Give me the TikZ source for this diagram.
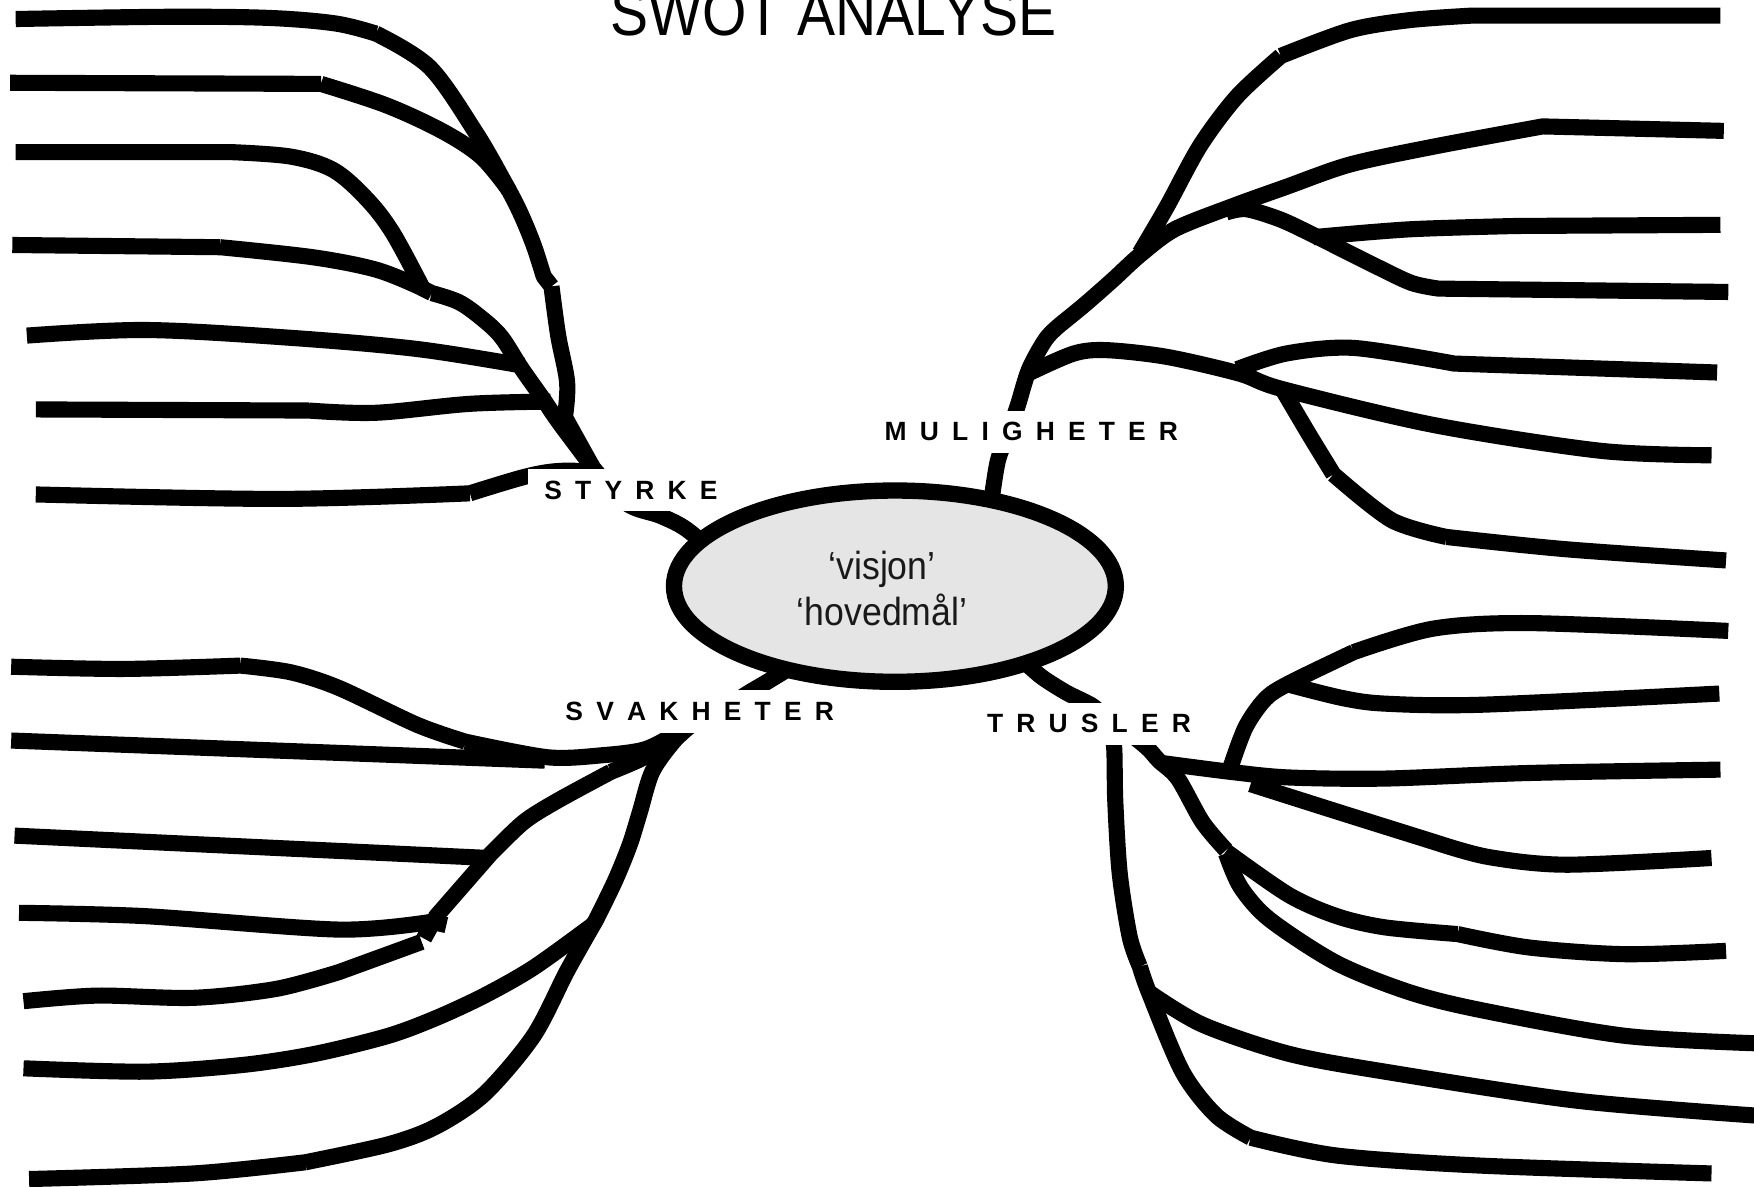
\documentclass[tikz,border=0pt]{standalone}
\usepackage{fontspec}
\setmainfont{Liberation Sans}
\newfontfamily\titlefont[FakeStretch=0.87]{Liberation Sans}
\newfontfamily\ellfont[FakeStretch=0.91]{Liberation Sans}
\newfontfamily\labfont{Liberation Sans}
\usetikzlibrary{shapes.geometric}
\definecolor{ellgray}{HTML}{E5E5E5}
\newcommand\labelfont{\labfont\bfseries\fontsize{11.8}{13}\selectfont\spaceskip=0.5em\relax}
\tikzset{
  branch/.style={line width=7.2pt, line cap=butt, line join=round},
  lab/.style={fill=white, inner xsep=7.5pt, inner ysep=0pt, minimum height=19pt, font=\labelfont},
}
\begin{document}
\begin{tikzpicture}[x=0.5pt,y=-0.5pt]
\useasboundingbox (0,0) rectangle (1568,1061);
\fill[white] (0,0) rectangle (1568,1061);
\clip (0,0) rectangle (1568,1061);

% ---------- STYRKE branches ----------
\draw[branch] plot[smooth,tension=0.55] coordinates {(14,17) (150,15) (240,16) (300,21) (336,30)} plot[smooth,tension=0.55] coordinates {(336,30) (384,60) (425,118) (451,163) (465,190) (477,219) (486,247)} -- (493,256) plot[smooth,tension=0.55] coordinates {(493,256) (499,300) (507,342) (505,373)} -- (530,418) plot[smooth,tension=0.55] coordinates {(530,418) (560,450) (590,461) (612,472) (634,490)};
\draw[branch] (9,74) -- (287,75) plot[smooth,tension=0.55] coordinates {(287,75) (345,94) (395,117) (430,140) (455,170)};
\draw[branch] (14,136) -- (207,136) plot[smooth,tension=0.55] coordinates {(207,136) (260,140) (298,152) (328,178) (351,208) (378,258)};
\draw[branch] (11,219) -- (197,221) plot[smooth,tension=0.55] coordinates {(197,221) (280,230) (336,241) (374,256)} -- (386,262) plot[smooth,tension=0.55] coordinates {(386,262) (410,270) (430,284) (448,301) (466,329) (485,356) (500,378) (530,418)};
\draw[branch] plot[smooth,tension=0.55] coordinates {(24,300) (130,295) (260,302) (373,312) (468,327)};
\draw[branch] (32,366) -- (276,367) plot[smooth,tension=0.55] coordinates {(276,367) (336,369) (420,361) (492,359)};
\draw[branch] plot[smooth,tension=0.55] coordinates {(32,442) (250,446) (420,441)} plot[smooth,tension=0.55] coordinates {(420,441) (470,426) (500,421) (525,423) (560,440)};

% ---------- MULIGHETER branches ----------
\draw[branch] plot[smooth,tension=0.5] coordinates {(886,450) (892,412) (902,385) (910,362) (920,330) (935,303) (948,290)} plot[smooth,tension=0.5] coordinates {(948,290) (970,272) (995,250) (1019,228) (1050,205) (1100,185) (1150,167) (1207,147) (1282,131) (1379,113)} -- (1541,117);
\draw[branch] plot[smooth,tension=0.5] coordinates {(1019,226) (1043,185) (1073,130) (1106,86) (1145,50)} plot[smooth,tension=0.5] coordinates {(1145,50) (1207,27) (1260,18) (1315,14)} -- (1538,14);
\draw[branch] plot[smooth,tension=0.5] coordinates {(1096,190) (1114,187) (1144,196) (1174,210) (1230,238) (1262,253) (1286,258)} -- (1545,261);
\draw[branch] plot[smooth,tension=0.5] coordinates {(1174,212) (1260,205) (1356,202)} -- (1538,201);
\draw[branch] plot[smooth,tension=0.5] coordinates {(921,333) (960,316) (989,313) (1043,319) (1108,334) (1147,348) (1282,380) (1431,403) (1530,407)};
\draw[branch] plot[smooth,tension=0.5] coordinates {(1106,330) (1150,316) (1210,311) (1300,325)} -- (1535,333);
\draw[branch] plot[smooth,tension=0.5] coordinates {(1147,349) (1170,388) (1192,424)} plot[smooth,tension=0.5] coordinates {(1192,424) (1244,465) (1293,480)} plot[smooth,tension=0.5] coordinates {(1293,480) (1400,491) (1543,501)};

% ---------- SVAKHETER branches ----------
\draw[branch] plot[smooth,tension=0.5] coordinates {(708,596) (685,610) (665,622) (640,640)};
\draw[branch] plot[smooth,tension=0.5] coordinates {(10,596) (110,598) (215,595)} plot[smooth,tension=0.5] coordinates {(215,595) (260,601) (303,615) (373,648) (416,663)} plot[smooth,tension=0.5] coordinates {(416,663) (490,677) (540,675) (576,670) (602,657) (618,645)};
\draw[branch] (10,662) -- (487,680);
\draw[branch] plot[smooth,tension=0.5] coordinates {(618,648) (602,660) (576,677) (546,690)} plot[smooth,tension=0.5] coordinates {(546,690) (498,716) (468,735) (438,764)} -- (390,819) -- (379,839);
\draw[branch] (13,747) -- (437,767);
\draw[branch] plot[smooth,tension=0.5] coordinates {(17,816) (130,819) (303,831) (386,824)} -- (399,827);
\draw[branch] plot[smooth,tension=0.5] coordinates {(21,895) (87,890) (173,892) (247,884) (303,869)} -- (377,842);
\draw[branch] plot[smooth,tension=0.5] coordinates {(618,648) (602,663) (583,690) (572,726) (563,755) (550,787) (533,822)} plot[smooth,tension=0.5] coordinates {(533,822) (507,868) (477,926) (433,978) (390,1007) (347,1023) (273,1039)} plot[smooth,tension=0.5] coordinates {(273,1039) (173,1049) (26,1054)};
\draw[branch] plot[smooth,tension=0.5] coordinates {(531,826) (477,865) (433,890) (390,910) (347,926) (282,942) (217,952) (130,958) (21,955)};

% ---------- TRUSLER branches ----------
\draw[branch] plot[smooth,tension=0.5] coordinates {(914,590) (931,605) (953,619) (978,632) (992,648)};
\draw[branch] plot[smooth,tension=0.5] coordinates {(992,648) (996,668) (997,716) (1001,781) (1010,838) (1019,864)} plot[smooth,tension=0.5] coordinates {(1019,864) (1027,887) (1057,958) (1087,997) (1118,1017)} plot[smooth,tension=0.5] coordinates {(1118,1017) (1195,1033) (1324,1042) (1530,1049)};
\draw[branch] plot[smooth,tension=0.5] coordinates {(1027,887) (1075,916) (1152,942) (1238,958) (1410,984) (1580,998)};
\draw[branch] plot[smooth,tension=0.5] coordinates {(1000,648) (1025,668) (1036,680) (1053,696) (1075,735) (1096,760)};
\draw[branch] plot[smooth,tension=0.5] coordinates {(1038,682) (1100,690) (1152,695) (1238,696) (1367,691) (1538,688)};
\draw[branch] plot[smooth,tension=0.5] coordinates {(1098,692) (1113,651) (1131,625) (1152,611) (1210,583)} plot[smooth,tension=0.5] coordinates {(1210,583) (1281,562) (1367,557) (1545,564)};
\draw[branch] plot[smooth,tension=0.5] coordinates {(1152,612) (1200,624) (1238,629) (1324,630) (1537,620)};
\draw[branch] plot[smooth,tension=0.5] coordinates {(1118,701) (1200,727) (1283,753)} plot[smooth,tension=0.5] coordinates {(1283,753) (1330,766) (1400,773) (1530,767)};
\draw[branch] plot[smooth,tension=0.5] coordinates {(1096,761) (1152,800) (1195,819) (1238,829) (1303,835)} plot[smooth,tension=0.5] coordinates {(1303,835) (1367,847) (1453,853) (1543,850)};
\draw[branch] plot[smooth,tension=0.5] coordinates {(1096,763) (1109,793) (1135,822) (1195,861) (1260,887) (1324,903) (1453,926) (1580,933)};

% ---------- centre ----------
\node[ellipse, draw, fill=ellgray, line width=7.3pt, minimum width=197.5pt, minimum height=85.5pt, inner sep=0pt] (vis) at (800,524) {};
\node[anchor=base, font=\ellfont\fontsize{17.5}{20}\selectfont, text=black!90] (visjon) at (788.5,518) {‘visjon’};
\node[anchor=base, font=\ellfont\fontsize{17.5}{20}\selectfont, text=black!90] (hovedmal) at (788.5,559) {‘hovedmål’};

% ---------- labels ----------
\node[lab] (styrke) at (564,438) {S T Y R K E};
\node[lab] (muligheter) at (922,386) {M U L I G H E T E R};
\node[lab] (svakheter) at (625.5,636) {S V A K H E T E R};
\node[lab] (trusler) at (973.5,647) {T R U S L E R};

% ---------- title ----------
\node[anchor=base, inner sep=0pt, font=\titlefont\fontsize{29.3}{32}\selectfont] (title) at (745,32) {SWOT ANALYSE};
\end{tikzpicture}
\end{document}
